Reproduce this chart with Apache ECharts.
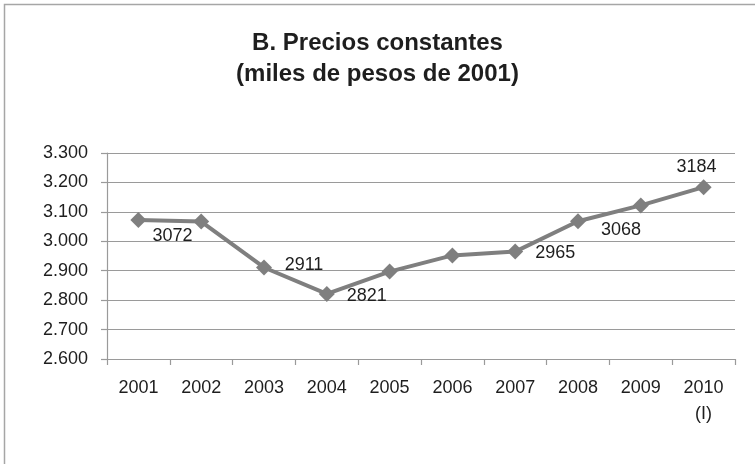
<!DOCTYPE html>
<html>
<head>
<meta charset="utf-8">
<script src="https://cdn.jsdelivr.net/npm/echarts@6/dist/echarts.min.js"></script>
<style>
html,body{margin:0;padding:0;background:#fff;}
#chart{width:755px;height:464px;}
</style>
</head>
<body>
<div id="chart"></div>
<script>
// ---- data ----
const categories = ['2001','2002','2003','2004','2005','2006','2007','2008','2009','2010\n(I)'];
const values = [3072, 3067, 2911, 2821, 2897, 2952, 2965, 3068, 3122, 3184];
const pointLabels = ['3072', null, '2911', '2821', null, null, '2965', '3068', null, '3184'];
const yMin = 2600, yMax = 3300, yStep = 100;
const titleLines = ['B. Precios constantes', '(miles de pesos de 2001)'];

// ---- layout (label offsets from point centre) ----
const labelOffsets = [[34,16], null, [40,-2], [40,2], null, null, [40,1], [43,9], null, [-7,-20]];

const FONT = 'Liberation Sans';
const chart = echarts.init(document.getElementById('chart'));

const seriesData = values.map((v, i) => {
  const d = { value: v };
  if (pointLabels[i]) {
    d.label = { show: true, position: 'inside', offset: labelOffsets[i], formatter: pointLabels[i] };
  } else {
    d.label = { show: false };
  }
  return d;
});

chart.setOption({
  animation: false,
  backgroundColor: '#fff',
  title: {
    text: titleLines.join('\n'),
    left: 'center',
    top: 23,
    textStyle: { fontFamily: FONT, fontSize: 24, fontWeight: 'bold', color: '#1e1e1e', lineHeight: 31 }
  },
  graphic: [{
    type: 'rect',
    shape: { x: 4.5, y: 4.5, width: 800, height: 500 },
    style: { fill: 'none', stroke: '#a6a6a6', lineWidth: 1.5 },
    silent: true
  }],
  grid: { left: 107, right: 20, top: 153, bottom: 105 },
  xAxis: {
    type: 'category',
    data: categories,
    boundaryGap: true,
    axisLine: { lineStyle: { color: '#9a9a9a', width: 1.2 } },
    axisTick: { show: true, length: 6, lineStyle: { color: '#9a9a9a', width: 1.2 } },
    axisLabel: { fontFamily: FONT, fontSize: 18, color: '#1e1e1e', margin: 16, lineHeight: 26, interval: 0 }
  },
  yAxis: {
    type: 'value',
    min: yMin, max: yMax, interval: yStep,
    axisLine: { show: true, lineStyle: { color: '#9a9a9a', width: 1.2 } },
    axisTick: { show: true, length: 6, lineStyle: { color: '#9a9a9a', width: 1.2 } },
    splitLine: { lineStyle: { color: '#9a9a9a', width: 1.2 } },
    axisLabel: {
      fontFamily: FONT, fontSize: 18, color: '#1e1e1e', margin: 19,
      formatter: v => { const s = String(v); return s.slice(0, s.length - 3) + '.' + s.slice(-3); }
    }
  },
  series: [{
    type: 'line',
    data: seriesData,
    symbol: 'diamond',
    symbolSize: 16,
    lineStyle: { color: '#7f7f7f', width: 4 },
    itemStyle: { color: '#7f7f7f' },
    label: { fontFamily: FONT, fontSize: 18, color: '#1e1e1e' }
  }]
});
</script>
</body>
</html>
